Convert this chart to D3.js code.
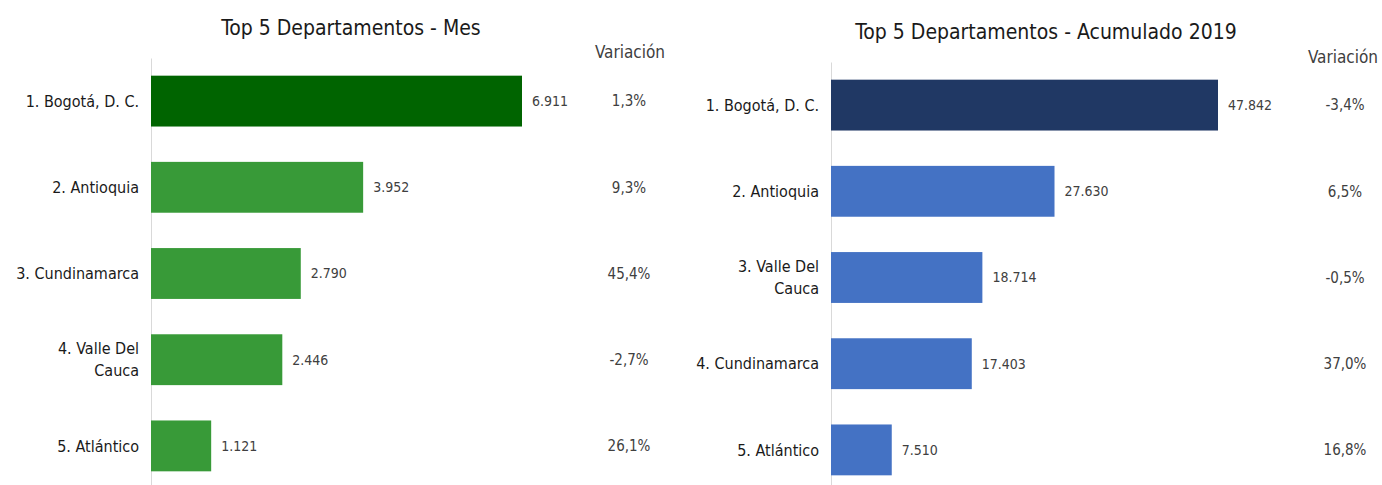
<!DOCTYPE html>
<html>
<head>
<meta charset="utf-8">
<script src="https://cdn.jsdelivr.net/npm/d3@7"></script>
<style>
  body { margin: 0; background: #fff; }
  svg text { font-family: "Liberation Sans Narrow", "DejaVu Sans Condensed", "Roboto", sans-serif; }
</style>
</head>
<body>
<div id="chart"></div>
<script>
// Monthly top 5
const mesTitle = 'Top 5 Departamentos - Mes';
const mesCategories = ['1. Bogotá, D. C.', '2. Antioquia', '3. Cundinamarca', '4. Valle Del\nCauca', '5. Atlántico'];
const mesValues = [6911, 3952, 2790, 2446, 1121];
const mesVariation = ['1,3%', '9,3%', '45,4%', '-2,7%', '26,1%'];

// Accumulated 2019 top 5
const acumTitle = 'Top 5 Departamentos - Acumulado 2019';
const acumCategories = ['1. Bogotá, D. C.', '2. Antioquia', '3. Valle Del\nCauca', '4. Cundinamarca', '5. Atlántico'];
const acumValues = [47842, 27630, 18714, 17403, 7510];
const acumVariation = ['-3,4%', '6,5%', '-0,5%', '37,0%', '16,8%'];

const width = 1382, height = 485;

const svg = d3.select('#chart')
    .append('svg')
    .attr('width', width)
    .attr('height', height);

const fmt = d3.formatLocale({ decimal: ',', thousands: '.', grouping: [3], currency: ['', ''] }).format(',d');

function drawChart(opts) {
    const g = svg.append('g');

    const y = d3.scaleBand()
        .domain(opts.categories)
        .range([opts.top, opts.bottom])
        .paddingInner(0.41)
        .paddingOuter(0.205);

    const x = d3.scaleLinear()
        .domain([0, d3.max(opts.values)])
        .range([opts.x0, opts.x0 + opts.maxWidth]);

    // title
    g.append('text')
        .attr('x', opts.titleX)
        .attr('y', opts.titleY)
        .attr('text-anchor', 'middle')
        .attr('font-size', 21)
        .attr('fill', '#1a1a1a')
        .text(opts.title);

    // variation header
    g.append('text')
        .attr('x', opts.varHeadX)
        .attr('y', opts.varHeadY)
        .attr('text-anchor', 'middle')
        .attr('font-size', 17)
        .attr('fill', '#404040')
        .text('Variación');

    // axis line
    g.append('g')
        .attr('transform', `translate(${opts.x0},0)`)
        .call(d3.axisLeft(y).tickSize(0).tickFormat(''))
        .call(a => a.select('.domain').attr('stroke', '#d9d9d9'));

    const rows = g.selectAll('.row')
        .data(opts.categories.map((c, i) => ({ c, v: opts.values[i], p: opts.variation[i], i })))
        .enter().append('g');

    rows.append('rect')
        .attr('x', x(0))
        .attr('y', d => y(d.c))
        .attr('width', d => x(d.v) - x(0))
        .attr('height', y.bandwidth())
        .attr('fill', d => d.i === 0 ? opts.topColor : opts.color);

    // category labels (may wrap)
    rows.each(function(d) {
        const lines = d.c.split('\n');
        const cy = y(d.c) + y.bandwidth() / 2;
        const t = d3.select(this).append('text')
            .attr('text-anchor', 'end')
            .attr('font-size', 16)
            .attr('fill', '#1a1a1a');
        lines.forEach((ln, k) => {
            t.append('tspan')
                .attr('x', opts.x0 - 12)
                .attr('y', cy + (k - (lines.length - 1) / 2) * 22)
                .attr('dy', '0.35em')
                .text(ln);
        });
    });

    rows.append('text')
        .attr('x', d => x(d.v) + 10)
        .attr('y', d => y(d.c) + y.bandwidth() / 2)
        .attr('dy', '0.35em')
        .attr('font-size', 14)
        .attr('fill', '#404040')
        .text(d => fmt(d.v));

    rows.append('text')
        .attr('x', opts.varX)
        .attr('y', d => y(d.c) + y.bandwidth() / 2)
        .attr('dy', '0.35em')
        .attr('text-anchor', 'middle')
        .attr('font-size', 15)
        .attr('fill', '#404040')
        .text(d => d.p);
}

drawChart({
    title: mesTitle, categories: mesCategories, values: mesValues, variation: mesVariation,
    x0: 151, maxWidth: 371, top: 58, bottom: 489,
    titleX: 351, titleY: 35, varHeadX: 630, varHeadY: 58, varX: 629,
    topColor: '#006400', color: '#389a38'
});

drawChart({
    title: acumTitle, categories: acumCategories, values: acumValues, variation: acumVariation,
    x0: 831, maxWidth: 387, top: 62, bottom: 493,
    titleX: 1046, titleY: 39, varHeadX: 1343, varHeadY: 63, varX: 1345,
    topColor: '#203864', color: '#4472c4'
});
</script>
</body>
</html>
